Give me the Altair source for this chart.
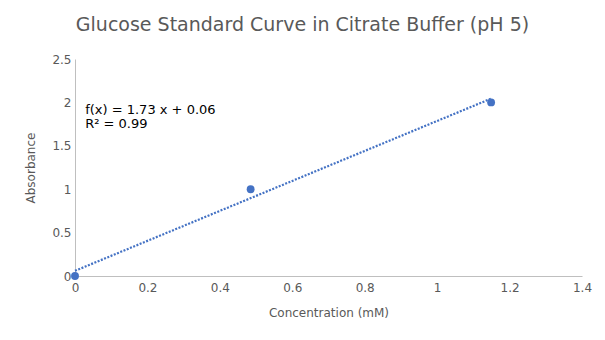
import altair as alt
import pandas as pd

concentration = [0.0, 0.485, 1.149]
absorbance = [0.0, 1.0, 2.0]
equation_lines = ["f(x) = 1.73 x + 0.06", "R² = 0.99"]
label_x = [0.028]
label_y = [1.98]
x_ticks = [0, 0.2, 0.4, 0.6, 0.8, 1, 1.2, 1.4]
y_ticks = [0, 0.5, 1, 1.5, 2, 2.5]

FONT = "DejaVu Sans"
BLUE = "#4472C4"
GRAY = "#595959"

df = pd.DataFrame({"conc": concentration, "abs": absorbance})
lab = pd.DataFrame({"x": label_x, "y": label_y, "t": [equation_lines]})

xs = alt.Scale(domain=[0, 1.4], nice=False)
ys = alt.Scale(domain=[0, 2.5], nice=False)

xaxis = alt.Axis(title="Concentration (mM)", values=x_ticks, format="~g", labelFlush=False,
                 grid=False, ticks=False, domainColor="#BFBFBF", labelColor=GRAY,
                 labelFont=FONT, labelFontSize=12, labelPadding=6,
                 titleFont=FONT, titleFontSize=12, titleColor=GRAY,
                 titleFontWeight="normal", titlePadding=14)
yaxis = alt.Axis(title="Absorbance", values=y_ticks, format="~g", labelFlush=False,
                 grid=False, ticks=False, domainColor="#BFBFBF", labelColor=GRAY,
                 labelFont=FONT, labelFontSize=12, labelPadding=4,
                 titleFont=FONT, titleFontSize=12, titleColor=GRAY,
                 titleFontWeight="normal", titlePadding=14)

base = alt.Chart(df)

trend = base.transform_regression("conc", "abs", method="linear").mark_line(
    color=BLUE, strokeWidth=2.2, strokeDash=[2, 1.5], clip=False
).encode(x=alt.X("conc:Q", scale=xs, axis=xaxis), y=alt.Y("abs:Q", scale=ys, axis=yaxis))

pts = base.mark_circle(color=BLUE, size=62, opacity=1, clip=False).encode(
    x=alt.X("conc:Q", scale=xs), y=alt.Y("abs:Q", scale=ys)
)

txt = alt.Chart(lab).mark_text(
    align="left", baseline="top", font=FONT, fontSize=13, color="#000000", lineHeight=14
).encode(x=alt.X("x:Q", scale=xs), y=alt.Y("y:Q", scale=ys), text="t")

chart = alt.layer(trend, pts, txt).properties(
    width=507, height=217,
    background="white",
    title=alt.TitleParams("Glucose Standard Curve in Citrate Buffer (pH 5)", font=FONT,
                          fontSize=19, fontWeight="normal", color=GRAY, offset=18, dx=-26),
    autosize=alt.AutoSizeParams(type="none"),
    padding={"left": 75, "top": 59, "right": 23, "bottom": 64},
).configure_view(strokeOpacity=0, strokeWidth=0)

chart.save("out.html", embed_options={"renderer": "svg", "actions": False})
